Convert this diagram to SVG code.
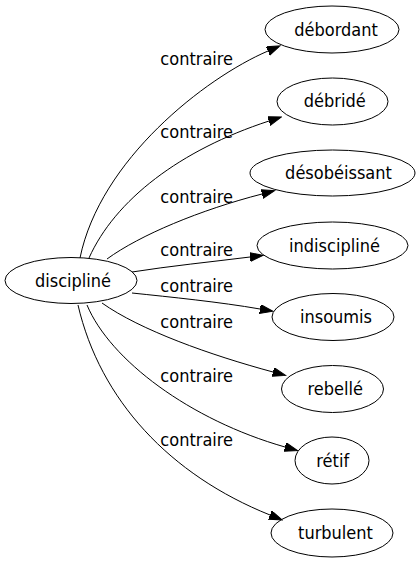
<svg xmlns="http://www.w3.org/2000/svg" width="419" height="563" viewBox="0 0 419 563">
<style>
text { font-family: "DejaVu Sans Condensed", "DejaVu Sans", sans-serif; font-stretch: condensed; font-size: 18px; fill: #000; text-anchor: middle; }
ellipse { fill: none; stroke: #000; stroke-width: 1; }
.edge { fill: none; stroke: #000; stroke-width: 1; marker-end: url(#arrow); }
</style>
<defs>
<marker id="arrow" markerUnits="userSpaceOnUse" markerWidth="14" markerHeight="10" refX="0" refY="4.5" orient="auto">
<path d="M0,0 L13,4.5 L0,9 z" fill="#000" stroke="#000" stroke-width="1"/>
</marker>
</defs>
<rect width="419" height="563" fill="#fff"/>
<g id="edges">
<path class="edge" d="M80,258 C100,160 205,78 268,51"/>
<text x="196.7" y="65">contraire</text>
<path class="edge" d="M89,258 C115,200 180,150 269,121"/>
<text x="196.7" y="138">contraire</text>
<path class="edge" d="M107,259 C140,235 200,210 262,194"/>
<text x="196.7" y="203">contraire</text>
<path class="edge" d="M132,272 C170,266 210,262 250,257"/>
<text x="196.7" y="256">contraire</text>
<path class="edge" d="M132,293 C170,297 220,302 260,309"/>
<text x="196.7" y="292">contraire</text>
<path class="edge" d="M102,303 C140,330 210,355 273,372"/>
<text x="196.7" y="328">contraire</text>
<path class="edge" d="M87,305 C110,360 190,420 285,447"/>
<text x="196.7" y="382">contraire</text>
<path class="edge" d="M78,305 C100,400 170,475 270,515"/>
<text x="196.7" y="446">contraire</text>
</g>
<g id="discipline"><ellipse cx="71" cy="280.5" rx="66" ry="23"/><text x="73" y="286.5">discipliné</text></g>
<g id="debordant"><ellipse cx="332" cy="29.5" rx="67" ry="23.5"/><text x="336" y="35.5">débordant</text></g>
<g id="debride"><ellipse cx="332.5" cy="101.5" rx="55.5" ry="23.5"/><text x="334.7" y="107">débridé</text></g>
<g id="desobeissant"><ellipse cx="332.5" cy="173" rx="82.5" ry="23"/><text x="338.5" y="179">désobéissant</text></g>
<g id="indiscipline"><ellipse cx="332.5" cy="245.5" rx="75.5" ry="23.5"/><text x="334.5" y="251.5">indiscipliné</text></g>
<g id="insoumis"><ellipse cx="333" cy="317" rx="61" ry="23.5"/><text x="336" y="323">insoumis</text></g>
<g id="rebelle"><ellipse cx="332.5" cy="389" rx="51" ry="23.5"/><text x="335.3" y="395">rebellé</text></g>
<g id="retif"><ellipse cx="332" cy="460.5" rx="37" ry="23.5"/><text x="332.7" y="466.5">rétif</text></g>
<g id="turbulent"><ellipse cx="332" cy="533" rx="61" ry="24"/><text x="335.5" y="539">turbulent</text></g>
</svg>
